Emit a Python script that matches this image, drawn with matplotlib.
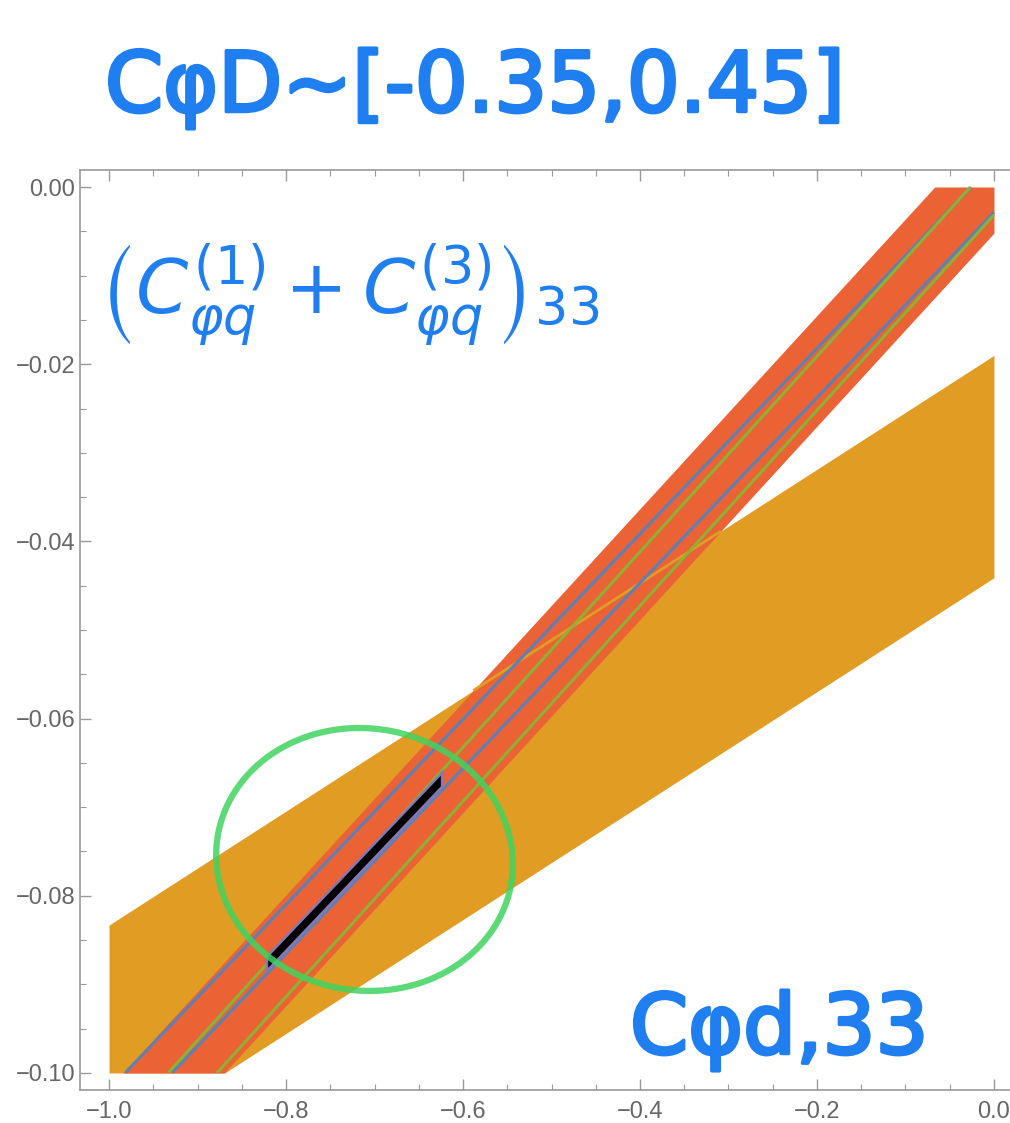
import numpy as np
import matplotlib
matplotlib.use('Agg')
import matplotlib.pyplot as plt
import matplotlib.patheffects as pe
from matplotlib.ticker import MultipleLocator, FuncFormatter

# ── band data: y = intercept + slope * x (x in [-1, 0], y in [-0.1, 0]) ──
yellow_slope = 0.0643
yellow_upper = -0.0190
yellow_lower = -0.0441

red_slope = 0.109
red_upper = 0.0073
red_lower = -0.0052

blue_slope = 0.1046
blue_intercepts = [0.0027, -0.00285]

green_slope = 0.1103
green_intercepts = [0.00294, -0.00315]

# best-fit segment (black) with purple halo
seg_x = [-0.8237, -0.6226]
seg_slope = 0.105
seg_intercept = -0.0013
seg_half = 0.0006
halo_half = 0.0010

# hand-drawn annotations
note_top = 'CφD~[-0.35,0.45]'
note_left = r'$\left(C_{\varphi q}^{(1)}+C_{\varphi q}^{(3)}\right)_{33}$'
note_xlabel = 'Cφd,33'
circle_center = (-0.7113, -0.0759)
circle_rx, circle_ry = 0.168, 0.0148

colors = {'yellow': '#E19C24', 'red': '#EB6235', 'blue': '#5E81B5',
          'green': '#8FB032', 'purple': '#8778B3', 'ink': '#1F7FF0',
          'circle': '#3FD460', 'frame': '#999999', 'label': '#666666'}

XMIN, XMAX, YMIN, YMAX = -1.0, 0.0, -0.1, 0.0

fig = plt.figure(figsize=(10.1, 11.23), dpi=100)
ax = fig.add_axes([80/1010, 1 - 1090/1123, (1023 - 80)/1010, (1090 - 170)/1123])

xs = np.linspace(XMIN, XMAX, 2001)

def band(slope, up, lo, color, z):
    top = np.minimum(up + slope * xs, YMAX)
    bot = np.maximum(lo + slope * xs, YMIN)
    ax.fill_between(xs, bot, top, where=top > bot, color=color, lw=0, zorder=z)

band(yellow_slope, yellow_upper, yellow_lower, colors['yellow'], 1)
band(red_slope, red_upper, red_lower, colors['red'], 2)

# yellow boundary seen through the red band
x_in = (red_upper - yellow_upper) / (yellow_slope - red_slope)
x_out = (red_lower - yellow_upper) / (yellow_slope - red_slope)
xe = np.linspace(x_in, x_out, 50)
ax.plot(xe, yellow_upper + yellow_slope * xe, color=colors['yellow'], lw=2, zorder=3,
        solid_capstyle='butt')

for c in blue_intercepts:
    y = c + blue_slope * xs
    m = (y >= YMIN) & (y <= YMAX)
    ax.plot(xs[m], y[m], color=colors['blue'], lw=2.2, zorder=4, solid_capstyle='butt')
for c in green_intercepts:
    y = c + green_slope * xs
    m = (y >= YMIN) & (y <= YMAX)
    ax.plot(xs[m], y[m], color=colors['green'], lw=2.2, zorder=4, solid_capstyle='butt')

sx = np.linspace(seg_x[0], seg_x[1], 200)
sc = seg_intercept + seg_slope * sx
ax.fill_between(sx, sc - halo_half, sc + halo_half, color=colors['purple'], lw=0, zorder=5)
ax.fill_between(sx[3:-3], sc[3:-3] - seg_half, sc[3:-3] + seg_half, color='black', lw=0, zorder=6)

# hand-drawn circle
t = np.linspace(0, 2 * np.pi, 400)
rot = np.deg2rad(-8)
u = circle_rx * np.cos(t)
v = circle_ry * 10 * np.sin(t)
cx = circle_center[0] + u * np.cos(rot) - v * np.sin(rot)
cy = circle_center[1] + (u * np.sin(rot) + v * np.cos(rot)) / 10
ax.plot(cx, cy, color=colors['circle'], lw=4.5, alpha=0.85, zorder=7)

ax.set_xlim(-1.0328, 0.0328)
ax.set_ylim(-0.10192, 0.00192)

def fmt(v, nd):
    s = f'{round(v, nd) + 0.0:.{nd}f}'
    return '0.' + '0' * nd if float(s) == 0 else s.replace('-', '\u2212')

ax.xaxis.set_major_locator(MultipleLocator(0.2))
ax.xaxis.set_minor_locator(MultipleLocator(0.05))
ax.yaxis.set_major_locator(MultipleLocator(0.02))
ax.yaxis.set_minor_locator(MultipleLocator(0.005))
ax.xaxis.set_major_formatter(FuncFormatter(lambda v, p: fmt(v, 1)))
ax.yaxis.set_major_formatter(FuncFormatter(lambda v, p: fmt(v, 2)))
ax.tick_params(which='both', direction='in', top=True, right=True,
               color=colors['frame'], labelcolor=colors['label'], labelsize=17)
ax.tick_params(which='major', length=8, width=1)
ax.tick_params(which='minor', length=4, width=0.8)
ax.tick_params(axis='x', pad=8)
for lab in ax.get_xticklabels() + ax.get_yticklabels():
    lab.set_family('Liberation Sans')
for s in ax.spines.values():
    s.set_color(colors['frame'])
    s.set_linewidth(1.2)

# handwritten notes
ink = [pe.withStroke(linewidth=2.5, foreground=colors['ink'])]
fig.text(105/1010, 1 - 88/1123, note_top, color=colors['ink'], fontsize=60,
         ha='left', va='center', path_effects=ink)
fig.text(98/1010, 1 - 295/1123, note_left, color=colors['ink'], fontsize=54,
         ha='left', va='center')
fig.text(630/1010, 1 - 1030/1123, note_xlabel, color=colors['ink'], fontsize=60,
         ha='left', va='center', path_effects=ink)

fig.savefig('out.png', dpi=100)
